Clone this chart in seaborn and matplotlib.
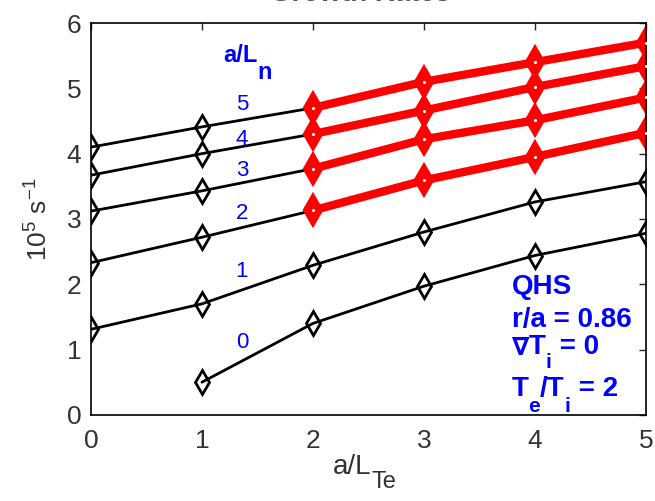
import numpy as np
import pandas as pd
import matplotlib
matplotlib.use("Agg")
import matplotlib.pyplot as plt
import matplotlib.transforms as mtransforms
import seaborn as sns

# ---- data ----
a_LTe = [0, 1, 2, 3, 4, 5]
series_labels = ["0", "1", "2", "3", "4", "5"]
s0 = [np.nan, 0.50, 1.40, 1.97, 2.44, 2.78]
s1 = [1.31, 1.70, 2.29, 2.80, 3.26, 3.57]
s2 = [2.33, 2.72, 3.13, 3.59, 3.95, 4.32]
s3 = [3.12, 3.43, 3.77, 4.22, 4.51, 4.86]
s4 = [3.67, 4.00, 4.30, 4.66, 5.02, 5.34]
s5 = [4.10, 4.41, 4.70, 5.10, 5.40, 5.70]
all_series = [s0, s1, s2, s3, s4, s5]
red_start = [None, None, 2, 2, 2, 2]   # a/L_Te from which curve is drawn red
label_pos = [(1.36, 1.11), (1.36, 2.20), (1.36, 3.08), (1.36, 3.74), (1.36, 4.22), (1.36, 4.76)]

sns.set_style("white")
plt.rcParams['font.family'] = ['Liberation Sans', 'DejaVu Sans']
plt.rcParams['mathtext.fontset'] = 'custom'
plt.rcParams['mathtext.rm'] = 'Liberation Sans'
plt.rcParams['mathtext.it'] = 'Liberation Sans'
plt.rcParams['mathtext.bf'] = 'Liberation Sans:bold'

fig = plt.figure(figsize=(6.55, 5.01), dpi=100)
ax = fig.add_axes([0.139, 0.172, 0.847, 0.782])
renderer = fig.canvas.get_renderer()


def rich(x, y, parts, transform, **kw):
    """parts: list of (text, fontsize, dy_pixels, extra_kw)"""
    off = 0.0
    for s, fs, dy, extra in parts:
        tr = mtransforms.offset_copy(transform, fig=fig, x=off, y=dy, units="dots")
        kws = dict(kw)
        kws.update(extra)
        t = fig.text(x, y, s, transform=tr, fontsize=fs, va="baseline", ha="left", **kws)
        off += t.get_window_extent(renderer).width


rows = []
for lab, ys in zip(series_labels, all_series):
    for x, y in zip(a_LTe, ys):
        rows.append({"x": x, "y": y, "n": lab})
df = pd.DataFrame(rows)

for i, lab in enumerate(series_labels):
    d = df[df.n == lab].dropna()
    rs = red_start[i]
    black = d if rs is None else d[d.x <= rs]
    sns.lineplot(data=black, x="x", y="y", ax=ax, color="black", lw=2.0,
                 marker="d", markersize=12, markerfacecolor="none",
                 markeredgecolor="black", markeredgewidth=2.0, legend=False)
    if rs is not None:
        red = d[d.x >= rs]
        sns.lineplot(data=red, x="x", y="y", ax=ax, color="red", lw=6,
                     marker="d", markersize=14, markerfacecolor="red",
                     markeredgecolor="red", markeredgewidth=3, legend=False)
        ax.plot(red.x, red.y, ls="none", marker=".", ms=2.5, color="white", zorder=5)
    lx, ly = label_pos[i]
    ax.text(lx, ly, lab, color="blue", fontsize=16, ha="center", va="center")

blue_b = dict(color="blue", fontweight="bold")
SUB = -16.5
rich(1.19, 5.40, [("a/L", 17, 0, {}), ("n", 17, SUB, {})], ax.transData, **blue_b)

tx = 3.79
rich(tx, 1.85, [("QHS", 20, 0, {})], ax.transData, **blue_b)
rich(tx, 1.34, [("r/a = 0.86", 20, 0, {})], ax.transData, **blue_b)
rich(tx, 0.93, [("\u2207", 18, 0, {"family": "DejaVu Sans"}), ("T", 20, 0, {}),
                ("i", 15, -14, {}), (" = 0", 20, 0, {})], ax.transData, **blue_b)
rich(tx, 0.289, [("T", 20, 0, {}), ("e", 15, SUB, {}), ("/T", 20, 0, {}),
                 ("i", 15, SUB, {}), (" = 2", 20, 0, {})], ax.transData, **blue_b)

ax.set_xlim(0, 5)
ax.set_ylim(0, 6)
ax.set_xticks(a_LTe)
ax.set_yticks([0, 1, 2, 3, 4, 5, 6])
ax.tick_params(direction="in", length=5, width=1, top=True, right=True,
               labelsize=19, labelcolor="#333333", pad=7)
ax.tick_params(axis="x", pad=10)
for sp in ax.spines.values():
    sp.set_color("black")
    sp.set_linewidth(1.2)
ax.set_xlabel("")
ax.set_ylabel(r"10$^{5}$ s$^{-1}$", fontsize=19, color="#333333", labelpad=10)

# x-axis label with MATLAB-like large subscript (pixel coords from top-left)
rich(333 / 655, 1 - 474 / 501, [("a/L", 20, 0, {}), ("Te", 17, -14, {})],
     fig.transFigure, color="#333333")

fig.text(0.55, 1.012, "Growth Rates", fontsize=20, fontweight="bold",
         color="#555555", ha="center", va="center")

fig.savefig("out.png", dpi=100)
